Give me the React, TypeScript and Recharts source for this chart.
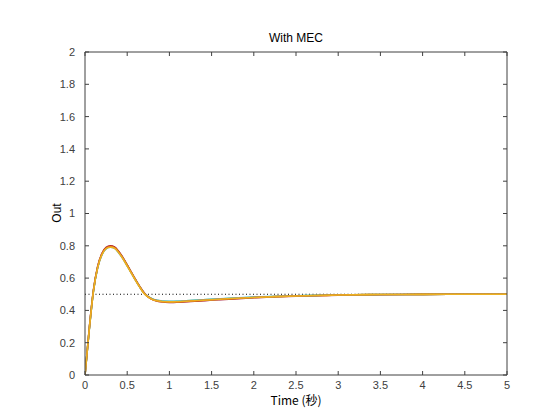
import { LineChart, Line, XAxis, YAxis, ReferenceLine } from 'recharts';

// time samples (s) and the step responses
const time = [
  0, 0.05, 0.1, 0.15, 0.2, 0.25, 0.3, 0.35, 0.4, 0.45, 0.5, 0.55, 0.6, 0.65, 0.7, 0.75, 0.8, 0.85,
  0.9, 0.95, 1.0, 1.05, 1.1, 1.2, 1.3, 1.4, 1.5, 1.6, 1.8, 2.0, 2.25, 2.5, 2.75, 3.0, 3.5, 4.0, 4.5, 5.0,
];

const outDarkRed = [
  0, 0.285, 0.525, 0.672, 0.752, 0.79, 0.8, 0.793, 0.765, 0.727, 0.682, 0.636, 0.59, 0.547, 0.509,
  0.484, 0.468, 0.459, 0.454, 0.451, 0.45, 0.45, 0.451, 0.454, 0.457, 0.46, 0.464, 0.467, 0.473,
  0.479, 0.484, 0.488, 0.491, 0.494, 0.497, 0.499, 0.5, 0.5,
];
const outGreen = [
  0, 0.28, 0.52, 0.666, 0.746, 0.784, 0.794, 0.787, 0.759, 0.722, 0.678, 0.632, 0.587, 0.544, 0.507,
  0.484, 0.47, 0.462, 0.458, 0.456, 0.455, 0.455, 0.456, 0.459, 0.462, 0.465, 0.468, 0.471, 0.476,
  0.481, 0.486, 0.49, 0.493, 0.495, 0.498, 0.499, 0.5, 0.5,
];
const outBlue = [
  0, 0.278, 0.518, 0.663, 0.743, 0.781, 0.791, 0.784, 0.756, 0.72, 0.676, 0.631, 0.586, 0.544, 0.508,
  0.485, 0.471, 0.463, 0.459, 0.457, 0.456, 0.456, 0.457, 0.46, 0.463, 0.466, 0.469, 0.472, 0.477,
  0.482, 0.487, 0.49, 0.493, 0.495, 0.498, 0.499, 0.5, 0.5,
];
const outOrange = [
  0, 0.282, 0.522, 0.669, 0.749, 0.787, 0.797, 0.79, 0.762, 0.724, 0.68, 0.634, 0.588, 0.545, 0.508,
  0.483, 0.468, 0.46, 0.455, 0.453, 0.452, 0.452, 0.453, 0.456, 0.459, 0.462, 0.466, 0.469, 0.474,
  0.48, 0.485, 0.489, 0.492, 0.495, 0.498, 0.499, 0.5, 0.5,
];
const outYellow = [
  0, 0.28, 0.52, 0.665, 0.745, 0.783, 0.792, 0.785, 0.757, 0.72, 0.675, 0.63, 0.585, 0.543, 0.505,
  0.482, 0.468, 0.46, 0.456, 0.454, 0.453, 0.453, 0.454, 0.457, 0.46, 0.463, 0.466, 0.469, 0.475,
  0.48, 0.485, 0.489, 0.492, 0.495, 0.498, 0.499, 0.5, 0.5,
];

const setpoint = 0.5;
const xTicks = [0, 0.5, 1, 1.5, 2, 2.5, 3, 3.5, 4, 4.5, 5];
const yTicks = [0, 0.2, 0.4, 0.6, 0.8, 1, 1.2, 1.4, 1.6, 1.8, 2];

const series = [
  { key: 'darkred', color: '#A2142F', values: outDarkRed },
  { key: 'green', color: '#77AC30', values: outGreen },
  { key: 'blue', color: '#4DBEEE', values: outBlue },
  { key: 'orange', color: '#D95319', values: outOrange },
  { key: 'yellow', color: '#EDB120', values: outYellow },
];

const data = time.map((t, i) => {
  const row: Record<string, number> = { t };
  series.forEach((s) => (row[s.key] = s.values[i]));
  return row;
});

const font = '"Liberation Sans", "Noto Sans CJK JP", sans-serif';
const cjkFont = '"Noto Sans CJK JP", sans-serif';
const axisColor = '#404040';
const tickStyle = { fill: axisColor, fontSize: 11, fontFamily: font };
const blank = () => '';

export default function App() {
  return (
    <div style={{ position: 'absolute', left: 0, top: 0, width: 560, height: 420, background: '#fff', fontFamily: font }}>
      <LineChart width={560} height={420} data={data} margin={{ top: 51, right: 52, bottom: 15, left: 40 }}>
        <XAxis
          dataKey="t"
          type="number"
          domain={[0, 5]}
          ticks={xTicks}
          allowDataOverflow
          stroke={axisColor}
          tickSize={-4}
          tickMargin={10}
          tick={tickStyle}
          height={30}
        />
        <XAxis
          xAxisId="top"
          dataKey="t"
          orientation="top"
          type="number"
          domain={[0, 5]}
          ticks={xTicks}
          allowDataOverflow
          stroke={axisColor}
          tickSize={-4}
          tickFormatter={blank}
          height={1}
        />
        <YAxis
          type="number"
          domain={[0, 2]}
          ticks={yTicks}
          allowDataOverflow
          stroke={axisColor}
          tickSize={-4}
          tickMargin={14}
          tick={tickStyle}
          width={45}
        />
        <YAxis
          yAxisId="right"
          orientation="right"
          type="number"
          domain={[0, 2]}
          ticks={yTicks}
          allowDataOverflow
          stroke={axisColor}
          tickSize={-4}
          tickFormatter={blank}
          width={1}
        />
        <ReferenceLine y={setpoint} stroke="#000" strokeDasharray="1 2.5" strokeWidth={1} />
        {/* invisible copy so the top and right axes of the box get drawn */}
        <Line
          xAxisId="top"
          yAxisId="right"
          dataKey="yellow"
          stroke="none"
          dot={false}
          activeDot={false}
          legendType="none"
          isAnimationActive={false}
        />
        {series.map((s) => (
          <Line
            key={s.key}
            dataKey={s.key}
            type="monotone"
            stroke={s.color}
            strokeWidth={1.6}
            dot={false}
            activeDot={false}
            isAnimationActive={false}
          />
        ))}
      </LineChart>

      <div style={{ position: 'absolute', left: 0, width: 560, top: 31, lineHeight: '14px', textAlign: 'center', paddingLeft: 32, boxSizing: 'border-box', fontSize: 12, color: '#000' }}>
        With MEC
      </div>
      <div style={{ position: 'absolute', left: 0, width: 560, top: 393, lineHeight: '14px', textAlign: 'center', paddingLeft: 32, boxSizing: 'border-box', fontSize: 12, color: '#000', fontFamily: cjkFont }}>
        Time (秒)
      </div>
      <div style={{ position: 'absolute', left: 57, top: 213, lineHeight: '14px', transform: 'translate(-50%, -50%) rotate(-90deg)', fontSize: 12, color: '#000' }}>
        Out
      </div>
    </div>
  );
}
